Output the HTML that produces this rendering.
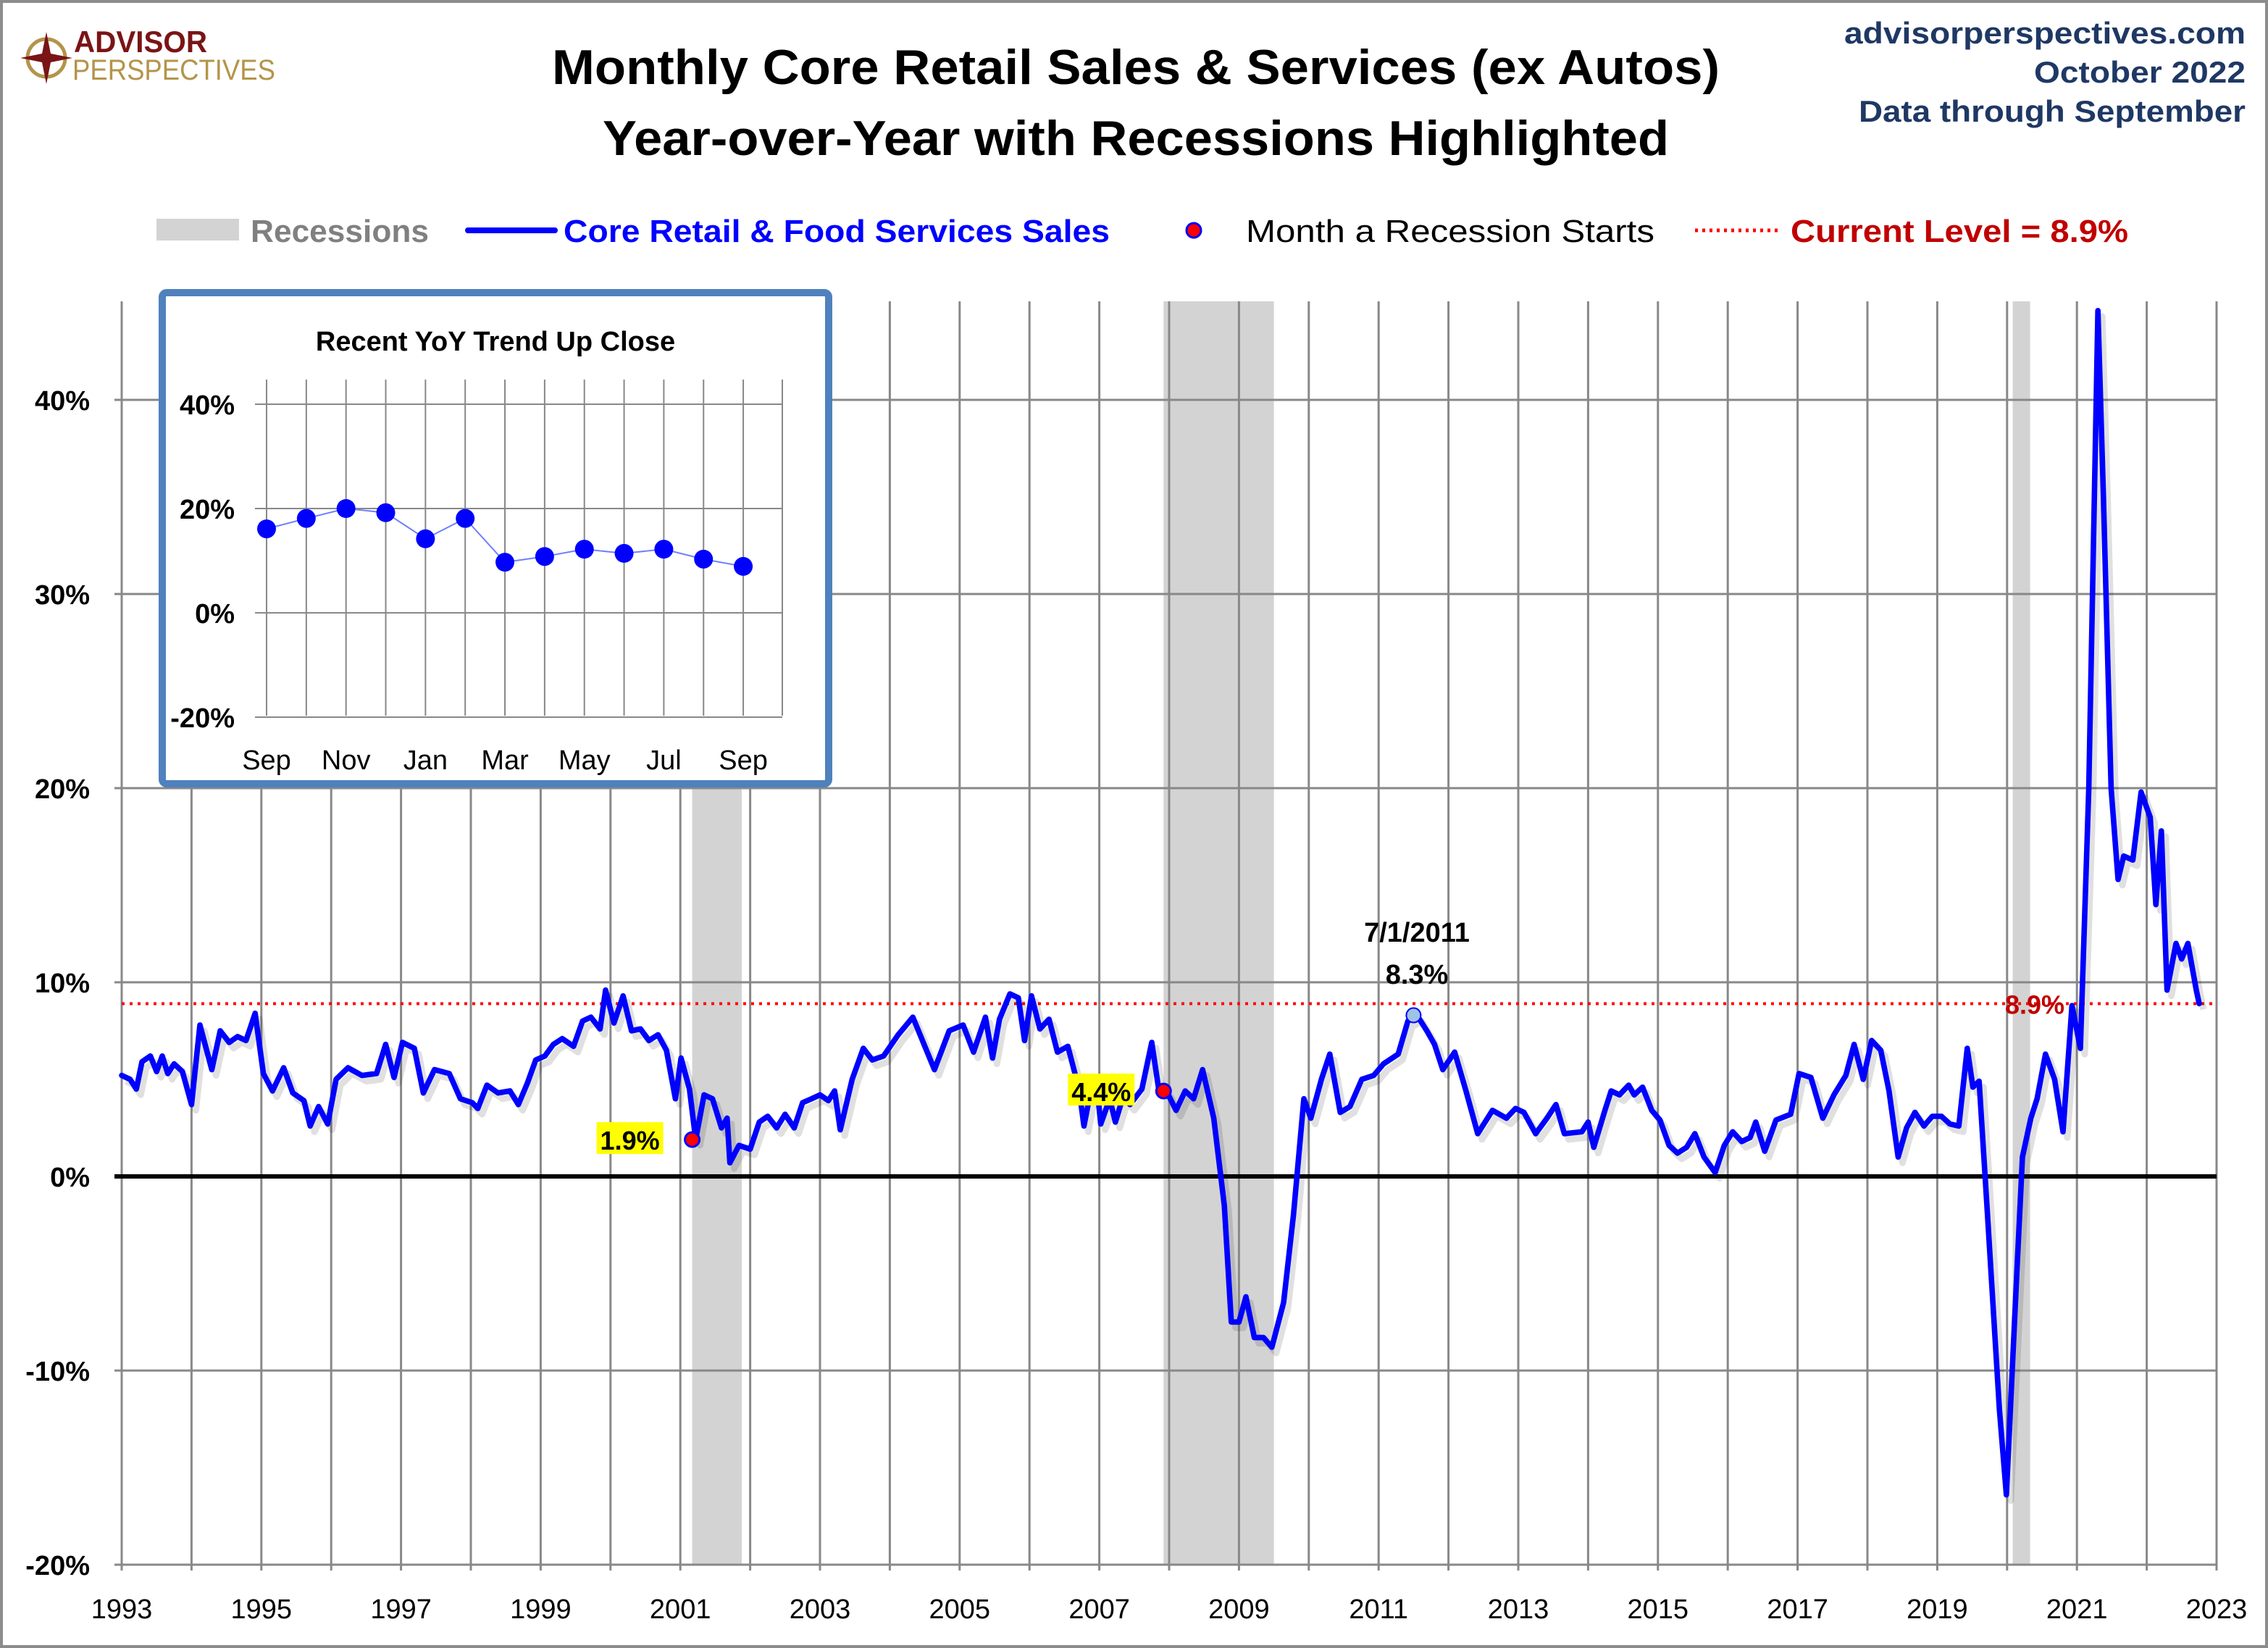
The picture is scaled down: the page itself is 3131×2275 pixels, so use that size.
<!DOCTYPE html>
<html><head><meta charset="utf-8"><style>
html,body{margin:0;padding:0;background:#fff}
svg{display:block}
text{font-family:"Liberation Sans",sans-serif}
</style></head><body>
<svg id="chart" width="3131" height="2275" viewBox="0 0 1565.5 1137.5" xmlns="http://www.w3.org/2000/svg">
<rect x="1" y="1" width="1563.5" height="1135.5" fill="#fff" stroke="#8c8c8c" stroke-width="2"/>
<g>
<circle cx="32" cy="40" r="13" fill="none" stroke="#b3944a" stroke-width="2.5"/>
<polygon points="32,22 35,37 50,40 35,43 32,58 29,43 14,40 29,37" fill="#7a1416"/>
<text x="51" y="36" font-size="21" font-weight="bold" fill="#7a1416" textLength="92" lengthAdjust="spacingAndGlyphs">ADVISOR</text>
<text x="50" y="55" font-size="20" fill="#b3944a" textLength="140" lengthAdjust="spacingAndGlyphs">PERSPECTIVES</text>
</g>
<text x="784" y="58" font-size="34" font-weight="bold" text-anchor="middle" textLength="806" lengthAdjust="spacingAndGlyphs">Monthly Core Retail Sales &amp; Services (ex Autos)</text>
<text x="784" y="107" font-size="34" font-weight="bold" text-anchor="middle" textLength="736" lengthAdjust="spacingAndGlyphs">Year-over-Year with Recessions Highlighted</text>
<g fill="#1f3864" font-weight="bold" font-size="21" text-anchor="end">
<text x="1550" y="30" textLength="277" lengthAdjust="spacingAndGlyphs">advisorperspectives.com</text>
<text x="1550" y="57" textLength="146" lengthAdjust="spacingAndGlyphs">October 2022</text>
<text x="1550" y="84" textLength="267" lengthAdjust="spacingAndGlyphs">Data through September</text>
</g>
<g>
<rect x="108" y="151" width="57" height="15" fill="#d3d3d3"/>
<text x="173" y="167" font-size="22" font-weight="bold" fill="#808080" textLength="123" lengthAdjust="spacingAndGlyphs">Recessions</text>
<line x1="323" y1="159" x2="383" y2="159" stroke="#0000ff" stroke-width="4" stroke-linecap="round"/>
<text x="389" y="167" font-size="22" font-weight="bold" fill="#0000ff" textLength="377" lengthAdjust="spacingAndGlyphs">Core Retail &amp; Food Services Sales</text>
<circle cx="824" cy="159" r="5" fill="#ff0000" stroke="#0000ff" stroke-width="1.5"/>
<text x="860" y="167" font-size="22" fill="#000" textLength="282" lengthAdjust="spacingAndGlyphs">Month a Recession Starts</text>
<line x1="1170" y1="159" x2="1228" y2="159" stroke="#ff0000" stroke-width="2.5" stroke-dasharray="2,3"/>
<text x="1236" y="167" font-size="22" font-weight="bold" fill="#c00000" textLength="233" lengthAdjust="spacingAndGlyphs">Current Level = 8.9%</text>
</g>
<g id="main"></g>
<g id="inset"></g>
</svg>
<script>
// ---- main chart data ----
const yearOffsets = [0,.12,.21,.29,.41,.50,.58,.66,.75,.87,1.0,1.12,1.29,1.41,1.54,1.66,1.78,1.91,2.03,2.16,2.32,2.45,2.61,2.70,2.82,2.95,3.07,3.24,3.44,3.65,3.78,3.90,4.02,4.19,4.32,4.48,4.69,4.85,5.02,5.10,5.23,5.39,5.56,5.68,5.81,5.93,6.06,6.18,6.31,6.47,6.60,6.72,6.85,6.93,7.05,7.18,7.30,7.43,7.55,7.68,7.80,7.93,8.01,8.13,8.22,8.34,8.46,8.59,8.67,8.71,8.84,9.00,9.13,9.25,9.38,9.50,9.63,9.75,9.88,10.00,10.12,10.21,10.29,10.46,10.62,10.75,10.91,11.12,11.33,11.64,11.85,12.05,12.20,12.37,12.47,12.57,12.72,12.84,12.93,13.03,13.15,13.28,13.40,13.55,13.71,13.78,13.86,13.96,14.02,14.15,14.23,14.34,14.44,14.61,14.75,14.85,14.96,15.10,15.23,15.35,15.48,15.64,15.79,15.89,16.00,16.10,16.22,16.35,16.47,16.64,16.78,16.93,17.03,17.18,17.30,17.45,17.59,17.76,17.93,18.07,18.28,18.42,18.55,18.69,18.80,18.92,19.09,19.25,19.42,19.63,19.83,19.96,20.08,20.25,20.41,20.54,20.66,20.91,21.00,21.08,21.24,21.33,21.45,21.58,21.66,21.78,21.91,22.03,22.16,22.28,22.41,22.53,22.66,22.82,22.95,23.07,23.20,23.32,23.40,23.53,23.69,23.90,24.02,24.19,24.36,24.52,24.69,24.81,24.94,25.06,25.19,25.31,25.44,25.56,25.68,25.81,25.93,26.06,26.18,26.31,26.43,26.51,26.60,26.72,26.89,26.99,27.14,27.22,27.34,27.43,27.55,27.68,27.80,27.93,28.05,28.17,28.30,28.38,28.49,28.59,28.67,28.80,28.92,29.05,29.13,29.21,29.29,29.42,29.50,29.59,29.71,29.75];
const yoyValues = [5.2,5.0,4.5,5.9,6.2,5.4,6.2,5.3,5.8,5.4,3.7,7.8,5.5,7.5,6.9,7.2,7.0,8.4,5.3,4.4,5.6,4.3,3.9,2.6,3.6,2.7,5.0,5.6,5.2,5.3,6.8,5.1,6.9,6.6,4.3,5.5,5.3,4.0,3.8,3.5,4.7,4.3,4.4,3.7,4.8,6.0,6.2,6.8,7.1,6.7,8.0,8.2,7.6,9.6,7.9,9.3,7.5,7.6,7.0,7.3,6.5,4.0,6.1,4.5,1.9,4.2,4.0,2.5,3.0,0.7,1.6,1.4,2.8,3.1,2.5,3.2,2.5,3.8,4.0,4.2,3.9,4.4,2.4,5.0,6.6,6.0,6.2,7.3,8.2,5.5,7.5,7.8,6.4,8.2,6.1,8.1,9.4,9.2,7.0,9.3,7.6,8.1,6.4,6.7,4.5,2.6,4.1,4.8,2.7,4.0,2.8,4.1,3.7,4.5,6.9,4.5,4.4,3.4,4.4,4.0,5.5,3.0,-1.5,-7.5,-7.5,-6.2,-8.3,-8.3,-8.8,-6.5,-2.0,4.0,3.0,5.0,6.3,3.3,3.6,5.0,5.2,5.8,6.3,8.0,8.3,7.5,6.8,5.5,6.4,4.4,2.2,3.4,3.0,3.5,3.3,2.2,3.0,3.7,2.2,2.3,2.8,1.5,3.4,4.4,4.2,4.7,4.2,4.6,3.4,2.9,1.6,1.2,1.5,2.2,1.0,0.2,1.6,2.3,1.8,2.0,2.8,1.3,2.9,3.2,5.3,5.1,3.0,4.2,5.2,6.8,5.0,7.0,6.5,4.4,1.0,2.5,3.3,2.6,3.1,3.1,2.7,2.6,6.6,4.6,4.9,-2.0,-12.0,-16.4,-5.0,1.0,3.0,4.0,6.3,5.0,2.3,8.8,6.6,20.0,44.6,35.0,20.0,15.3,16.5,16.3,19.8,18.5,14.0,17.8,9.6,12.0,11.2,12.0,9.6,8.9];
const recessionStarts = [2001.17, 2007.92, 2020.08];
const recessionEnds = [2001.88, 2009.50, 2020.33];
const recessionStartValues = [1.9, 4.4];
const recessionStartLabels = ["1.9%", "4.4%"];
const yTicks = [-20,-10,0,10,20,30,40];
const yTickLabels = ["-20%","-10%","0%","10%","20%","30%","40%"];
const xTickYears = [1993,1995,1997,1999,2001,2003,2005,2007,2009,2011,2013,2015,2017,2019,2021,2023];
const currentLevel = 8.9;
const peakDate = 2011.5, peakValue = 8.3;
// ---- inset data ----
const insetMonths = ["Sep","Oct","Nov","Dec","Jan","Feb","Mar","Apr","May","Jun","Jul","Aug","Sep"];
const insetValues = [16.1,18.1,20.0,19.2,14.2,18.1,9.7,10.8,12.2,11.4,12.2,10.3,8.9];
const insetTicks = [-20,0,20,40];

const NS="http://www.w3.org/2000/svg";
function mk(tag,attrs,parent,txt){const e=document.createElementNS(NS,tag);for(const k in attrs)e.setAttribute(k,attrs[k]);if(txt!==undefined)e.textContent=txt;parent.appendChild(e);return e;}
const main=document.getElementById('main');
const X0=84,X1=1530,Y0=812,PX_PER_PCT=13.4,TOP=208,BOT=1080;
const xs=yr=>X0+(yr-1993)*(X1-X0)/30;
const ys=v=>Y0-v*PX_PER_PCT;

recessionStarts.forEach((s,i)=>{
 const r=mk('rect',{x:xs(s),y:TOP,width:xs(recessionEnds[i])-xs(s),height:BOT-TOP,fill:'#d3d3d3'},main);
 
 
});
for(let y=1993;y<=2023;y++){
 const l=mk('line',{x1:xs(y),x2:xs(y),y1:TOP,y2:BOT+4,stroke:'#888',"stroke-width":1.5},main);
 
 
}
yTicks.forEach((t,i)=>{
 const l=mk('line',{x1:X0-5,x2:X1,y1:ys(t),y2:ys(t),stroke:t===0?'#000':'#888',"stroke-width":t===0?3:1.5},main);
 
 
 const tx=mk('text',{x:62,y:ys(t)+7,"font-size":19,"font-weight":"bold","text-anchor":"end"},main,yTickLabels[i]);
 
 
});
xTickYears.forEach(y=>{
 const tx=mk('text',{x:xs(y),y:1117,"font-size":19,"text-anchor":"middle"},main,String(y));
 
 
});
const cl=mk('line',{x1:X0,x2:X1,y1:ys(currentLevel),y2:ys(currentLevel),stroke:'#ff0000',"stroke-width":2,"stroke-dasharray":"2,3.5"},main);


const clt=mk('text',{x:1384,y:ys(currentLevel)+7,"font-size":18,"font-weight":"bold",fill:"#c00000","font-family":"DejaVu Sans, sans-serif"},main,currentLevel+"%");


let d='';
yearOffsets.forEach((o,i)=>{d+=(i?'L':'M')+xs(1993+o).toFixed(1)+','+ys(yoyValues[i]).toFixed(1);});
const sh=mk('path',{d:d,fill:'none',stroke:'#000',"stroke-opacity":0.12,"stroke-width":4.5,transform:'translate(3,4)',"stroke-linejoin":"round"},main);


const p=mk('path',{d:d,fill:'none',stroke:'#0000ff',"stroke-width":3.8,"stroke-linejoin":"round","stroke-linecap":"round"},main);


recessionStartValues.forEach((v,i)=>{
 const cx=xs(recessionStarts[i]),cy=ys(v);
 const c=mk('circle',{cx:cx,cy:cy,r:5,fill:'#ff0000',stroke:'#0000ff',"stroke-width":1.5},main);
 
 
 const bg=mk('rect',{x:cx-66,y:cy-12,width:46,height:22,fill:'#ffff00'},main);
 
 
 const t=mk('text',{x:cx-43,y:cy+7,"font-size":18,"font-weight":"bold","text-anchor":"middle"},main,recessionStartLabels[i]);
 
 
});
const pk=mk('circle',{cx:xs(peakDate),cy:ys(peakValue),r:5,fill:'#9dc3e6',stroke:'#0000ff',"stroke-width":1},main);


const pt1=mk('text',{x:978,y:650,"font-size":19,"font-weight":"bold","text-anchor":"middle"},main,"7/1/2011");


const pt2=mk('text',{x:978,y:679,"font-size":19,"font-weight":"bold","text-anchor":"middle"},main,peakValue+"%");



const ins=document.getElementById('inset');
const box=mk('rect',{x:112,y:202,width:460,height:339,fill:'#fff',stroke:'#4f81bd',"stroke-width":5,rx:3},ins);


const IX0=184,IX1=540,IYT=262,IYB=494,IY0=423,IPX=3.6;
const ixs=i=>IX0+i*27.42;
const iys=v=>IY0-v*IPX;
const it=mk('text',{x:342,y:242,"font-size":19,"font-weight":"bold","text-anchor":"middle"},ins,"Recent  YoY Trend Up Close");


insetMonths.forEach((m,i)=>{
 const l=mk('line',{x1:ixs(i),x2:ixs(i),y1:IYT,y2:IYB,stroke:'#888',"stroke-width":1},ins);
 
 
 if(i%2===0){
  const t=mk('text',{x:ixs(i),y:531,"font-size":19,"text-anchor":"middle"},ins,m);
  
  
 }
});
const rl=mk('line',{x1:IX1,x2:IX1,y1:IYT,y2:IYB,stroke:'#888',"stroke-width":1},ins);


insetTicks.forEach(t=>{
 const l=mk('line',{x1:IX0-8,x2:IX1,y1:iys(t),y2:iys(t),stroke:'#888',"stroke-width":1},ins);
 
 
 const tx=mk('text',{x:162,y:iys(t)+7,"font-size":19,"font-weight":"bold","text-anchor":"end"},ins,t+"%");
 
 
});
let id='';
insetValues.forEach((v,i)=>{id+=(i?'L':'M')+ixs(i)+','+iys(v);});
const il=mk('path',{d:id,fill:'none',stroke:'#6f7fff',"stroke-width":1},ins);


insetValues.forEach((v,i)=>{
 const c=mk('circle',{cx:ixs(i),cy:iys(v),r:6.5,fill:'#0000ff'},ins);
 
 
});
</script>
</body></html>
